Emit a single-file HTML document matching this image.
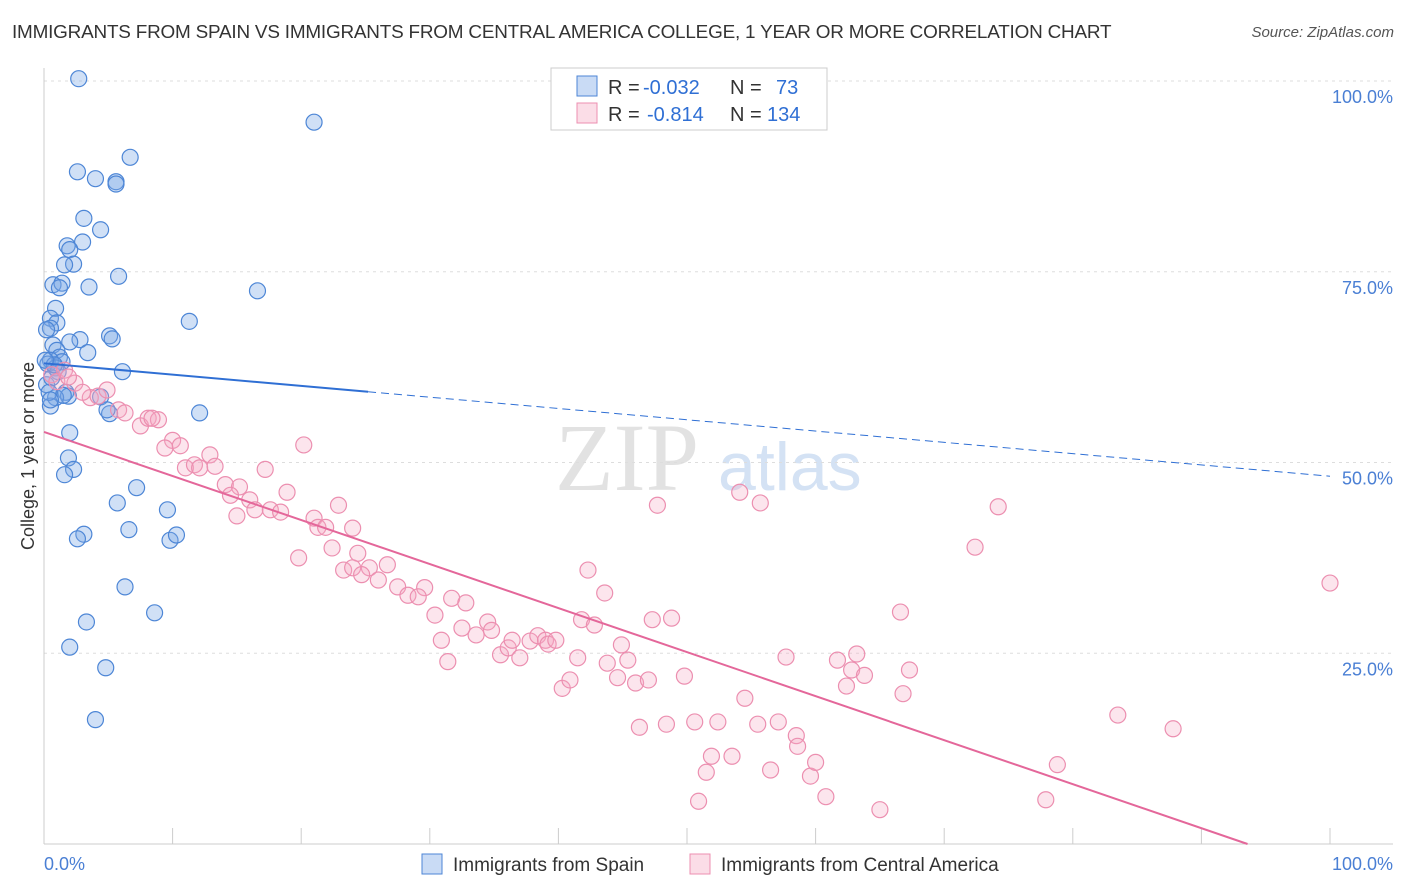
<!DOCTYPE html>
<html><head><meta charset="utf-8">
<style>
body{margin:0;background:#fff;font-family:"Liberation Sans",sans-serif;}
#wrap{position:relative;width:1406px;height:892px;overflow:hidden;}
.title{position:absolute;left:12px;top:22px;font-size:18.9px;color:#333;letter-spacing:-0.2px}
.src{position:absolute;right:12px;top:24px;font-size:15px;color:#555;font-style:italic}
</style></head><body>
<div id="wrap">
<div class="title">IMMIGRANTS FROM SPAIN VS IMMIGRANTS FROM CENTRAL AMERICA COLLEGE, 1 YEAR OR MORE CORRELATION CHART</div>
<div class="src">Source: ZipAtlas.com</div>
<svg id="svg" width="1406" height="892" style="position:absolute;left:0;top:0"></svg>
</div>
<script>
const bluePx=[[79,79],[314,122],[130,157],[77,172],[95,179],[116,182],[116,184],[84,218],[101,230],[82,242],[67,246],[70,250],[74,264],[64,265],[118,276],[53,285],[62,283],[60,288],[89,287],[258,291],[55,308],[189,321],[50,318],[57,323],[51,328],[110,336],[112,339],[80,340],[70,342],[53,345],[57,350],[88,353],[60,357],[51,360],[48,364],[62,362],[55,368],[122,372],[66,392],[68,396],[56,398],[100,397],[51,406],[110,414],[200,413],[107,410],[70,433],[68,458],[74,469],[64,475],[136,488],[117,503],[167,510],[129,530],[84,534],[77,539],[170,540],[177,535],[125,587],[154,613],[86,622],[70,647],[106,668],[96,720],[47,385],[58,372],[52,378],[54,365],[63,395],[49,392],[45,360],[46,330],[50,400]];
const pinkPx=[[52,375],[57,382],[64,370],[75,383],[68,377],[90,398],[98,396],[82,392],[107,390],[118,410],[125,413],[140,426],[148,418],[158,420],[152,418],[172,440],[165,448],[180,446],[210,455],[185,468],[195,465],[200,468],[215,466],[225,485],[240,487],[230,495],[250,500],[265,469],[287,492],[255,510],[237,516],[270,510],[280,512],[304,445],[314,518],[318,527],[325,527],[338,505],[352,528],[298,558],[332,548],[358,553],[344,570],[352,568],[370,568],[362,575],[388,565],[378,580],[398,587],[408,595],[425,588],[418,597],[435,615],[452,598],[466,603],[442,640],[448,662],[462,628],[476,635],[488,622],[492,630],[500,655],[508,648],[512,640],[520,658],[530,641],[538,636],[545,640],[548,644],[556,640],[562,688],[570,680],[578,658],[588,570],[605,593],[582,620],[595,625],[607,663],[617,678],[622,645],[628,660],[635,683],[648,680],[652,620],[672,618],[658,505],[685,676],[640,727],[667,724],[695,722],[712,756],[706,772],[698,801],[732,756],[718,722],[745,698],[740,492],[758,724],[760,503],[770,770],[778,722],[786,657],[796,736],[798,746],[810,776],[815,762],[826,797],[838,660],[846,686],[852,670],[857,654],[865,675],[880,810],[900,612],[903,694],[910,670],[975,547],[998,507],[1046,800],[1058,765],[1118,715],[1173,729],[1330,583]];
const blueX=bluePx.map(p=>+((p[0]-44)/12.86).toFixed(1));
const blueY=bluePx.map(p=>+((844-p[1])/7.63).toFixed(1));
const pinkX=pinkPx.map(p=>+((p[0]-44)/12.86).toFixed(1));
const pinkY=pinkPx.map(p=>+((844-p[1])/7.63).toFixed(1));
const blueTrend=[63.0,48.2];
const pinkTrend=[54.0,-3.7];
const yTicks=[100,75,50,25];
const yTickLabels=["100.0%","75.0%","50.0%","25.0%"];

const X=v=>44+v*12.86, Y=v=>844-v*7.63;
const svg=document.getElementById('svg');
const NS='http://www.w3.org/2000/svg';
function mk(t,a,p){const e=document.createElementNS(NS,t);for(const k in a)e.setAttribute(k,a[k]);(p||svg).appendChild(e);return e;}

let w=mk('text',{x:555,y:490,'font-size':96,'font-family':'Liberation Serif,serif',fill:'#e2e2e2'});w.textContent='ZIP';


w=mk('text',{x:718,y:490,'font-size':68,'font-family':'Liberation Sans,sans-serif',fill:'#d4e2f4'});w.textContent='atlas';



yTicks.forEach((t,i)=>{
 const g=mk('line',{x1:44,x2:1393,y1:Y(t),y2:Y(t),stroke:'#ddd','stroke-dasharray':'3,4'});
 
 
 const l=mk('text',{x:1393,y:Y(t)+22,'text-anchor':'end','font-size':18,fill:'#4a7fd4'});l.textContent=yTickLabels[i];
 
 
});
let a=mk('line',{x1:44,x2:44,y1:68,y2:844,stroke:'#ccc'});


a=mk('line',{x1:44,x2:1393,y1:844,y2:844,stroke:'#ccc'});


for(let i=0;i<=10;i++){const t=mk('line',{x1:X(i*10),x2:X(i*10),y1:828,y2:844,stroke:'#ccc'});
 
 }
let tl=mk('text',{x:44,y:870,'font-size':18,fill:'#4a7fd4'});tl.textContent='0.0%';


tl=mk('text',{x:1393,y:870,'font-size':18,fill:'#4a7fd4','text-anchor':'end'});tl.textContent='100.0%';


tl=mk('text',{x:34,y:456,'font-size':18,fill:'#333','text-anchor':'middle',transform:'rotate(-90 34 456)'});tl.textContent='College, 1 year or more';



blueX.forEach((x,i)=>{const c=mk('circle',{cx:X(x),cy:Y(blueY[i]),r:8,fill:'rgba(120,165,230,0.35)',stroke:'#4d86d6','stroke-width':1.2});
 
 });
pinkX.forEach((x,i)=>{const c=mk('circle',{cx:X(x),cy:Y(pinkY[i]),r:8,fill:'rgba(245,170,195,0.3)',stroke:'#ec8fb0','stroke-width':1.2});
 
 });

const bAt=x=>blueTrend[0]+(blueTrend[1]-blueTrend[0])*x/100;
let ln=mk('line',{x1:X(0),y1:Y(bAt(0)),x2:X(25.2),y2:Y(bAt(25.2)),stroke:'#2f6fd4','stroke-width':2});


ln=mk('line',{x1:X(25.2),y1:Y(bAt(25.2)),x2:X(100),y2:Y(bAt(100)),stroke:'#2f6fd4','stroke-width':1,'stroke-dasharray':'8,5'});


const pAt=x=>pinkTrend[0]+(pinkTrend[1]-pinkTrend[0])*x/100;
const xEnd=pinkTrend[0]/(pinkTrend[0]-pinkTrend[1])*100;
ln=mk('line',{x1:X(0),y1:Y(pAt(0)),x2:X(xEnd),y2:Y(pAt(xEnd)),stroke:'#e4679a','stroke-width':2});



const lg=mk('g',{});


mk('rect',{x:551,y:68,width:276,height:62,fill:'#fff',stroke:'#ccc'},lg);
mk('rect',{x:577,y:76,width:20,height:20,fill:'rgba(120,165,230,0.4)',stroke:'#4d86d6'},lg);
mk('rect',{x:577,y:103,width:20,height:20,fill:'rgba(245,170,195,0.4)',stroke:'#ec8fb0'},lg);
function lt(x,y,s,c){const t=mk('text',{x:x,y:y,'font-size':20,fill:c},lg);t.textContent=s;return t;}
lt(608,94,'R = ','#333');lt(643,94,'-0.032','#2f6fd4');lt(730,94,'N = ','#333');lt(776,94,'73','#2f6fd4');
lt(608,121,'R = ','#333');lt(647,121,'-0.814','#2f6fd4');lt(730,121,'N = ','#333');lt(767,121,'134','#2f6fd4');

const bl=mk('g',{});


let r=mk('rect',{x:422,y:854,width:20,height:20,fill:'rgba(120,165,230,0.4)',stroke:'#4d86d6'},bl);


let t=mk('text',{x:453,y:871,'font-size':19,fill:'#333'},bl);t.textContent='Immigrants from Spain';


r=mk('rect',{x:690,y:854,width:20,height:20,fill:'rgba(245,170,195,0.4)',stroke:'#ec8fb0'},bl);


t=mk('text',{x:721,y:871,'font-size':19,fill:'#333'},bl);t.textContent='Immigrants from Central America';


</script>
</body></html>
